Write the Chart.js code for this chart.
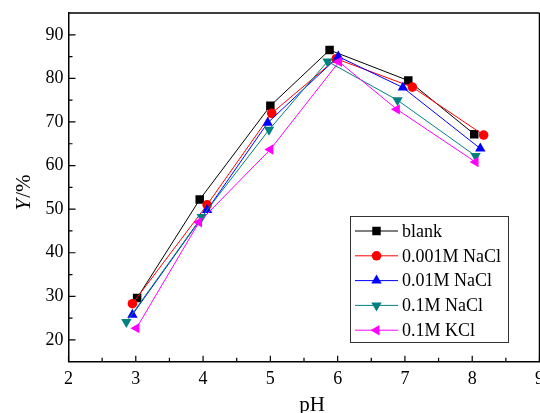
<!DOCTYPE html>
<html>
<head>
<meta charset="utf-8">
<script src="https://cdn.jsdelivr.net/npm/chart.js@4.4.0/dist/chart.umd.min.js"></script>
<style>
html, body { margin: 0; padding: 0; background: #fff; overflow: hidden; }
#wrap { width: 560px; height: 413px; }
</style>
</head>
<body>
<div id="wrap"><canvas id="myChart" width="560" height="413"></canvas></div>
<script>
// yield vs pH for each electrolyte
var seriesNames = ['blank', '0.001M NaCl', '0.01M NaCl', '0.1M NaCl', '0.1M KCl'];

var phBlank = [3.02, 3.95, 5.00, 5.88, 7.05, 8.03];
var yBlank  = [29.6, 52.2, 73.7, 86.5, 79.5, 67.2];

var phNa001 = [2.95, 4.06, 5.02, 5.98, 7.11, 8.17];
var yNa001  = [28.3, 51.0, 72.0, 84.5, 78.0, 67.0];

var phNa01 = [2.95, 4.06, 4.96, 6.01, 6.97, 8.12];
var yNa01  = [25.8, 49.8, 69.8, 85.0, 77.9, 63.9];

var phNa1 = [2.86, 3.98, 4.98, 5.85, 6.89, 8.05];
var yNa1  = [24.1, 48.2, 68.2, 83.9, 75.0, 62.2];

var phK1 = [3.01, 3.94, 5.00, 6.02, 6.88, 8.05];
var yK1  = [22.7, 47.0, 63.7, 83.8, 72.9, 60.8];

var xTicks = [2, 3, 4, 5, 6, 7, 8, 9];
var yTicks = [20, 30, 40, 50, 60, 70, 80, 90];

var serif = "'Liberation Serif', 'Times New Roman', serif";

function pts(xs, ys) {
    return xs.map(function (x, i) { return { x: x, y: ys[i] }; });
}

function makeSet(label, xs, ys, color, style, rot, r, order) {
    return {
        label: label,
        data: pts(xs, ys),
        showLine: true,
        borderColor: color,
        borderWidth: 1,
        backgroundColor: color,
        pointBackgroundColor: color,
        pointBorderColor: color,
        pointBorderWidth: 0,
        pointStyle: style,
        rotation: rot,
        pointRadius: r,
        order: order
    };
}

var datasets = [
    makeSet(seriesNames[0], phBlank, yBlank, '#000000', 'rect', 0, 6, 4),
    makeSet(seriesNames[1], phNa001, yNa001, '#ff0000', 'circle', 0, 4.8, 3),
    makeSet(seriesNames[2], phNa01, yNa01, '#0000ff', 'triangle', 0, 6, 2),
    makeSet(seriesNames[3], phNa1, yNa1, '#008080', 'triangle', 180, 6, 1),
    makeSet(seriesNames[4], phK1, yK1, '#ff00ff', 'triangle', 270, 6, 0)
];

// frame, inward tick marks and axis titles
var framePlugin = {
    id: 'frame',
    afterDraw: function (chart) {
        var c = chart.ctx, a = chart.chartArea;
        var xs = chart.scales.x, ys = chart.scales.y;
        c.save();
        c.strokeStyle = '#000';
        c.lineWidth = 1.5;
        c.beginPath();
        c.moveTo(a.left, a.top); c.lineTo(a.right, a.top);
        c.moveTo(a.right, a.top); c.lineTo(a.right, a.bottom);
        c.stroke();

        c.lineWidth = 1.2;
        c.beginPath();
        var v, p, len;
        for (v = 2; v <= 9; v += 0.5) {
            p = xs.getPixelForValue(v);
            len = (v % 1 === 0) ? 6 : 4;
            c.moveTo(p, a.bottom); c.lineTo(p, a.bottom - len);
        }
        for (v = 20; v <= 90; v += 5) {
            p = ys.getPixelForValue(v);
            len = (v % 10 === 0) ? 7 : 4;
            c.moveTo(a.left, p); c.lineTo(a.left + len, p);
        }
        c.stroke();

        // axis titles
        c.fillStyle = '#000';
        c.textBaseline = 'alphabetic';
        c.font = '21px ' + serif;
        c.textAlign = 'center';
        c.fillText('pH', 312, 411);

        c.translate(30, 193);
        c.rotate(-Math.PI / 2);
        c.font = 'italic 21px ' + serif;
        var w1 = c.measureText('Y').width;
        c.font = '21px ' + serif;
        var w2 = c.measureText('/%').width;
        var x0 = -(w1 + w2) / 2;
        c.textAlign = 'left';
        c.font = 'italic 21px ' + serif;
        c.fillText('Y', x0, 0);
        c.font = '21px ' + serif;
        c.fillText('/%', x0 + w1 + 1, 0);
        c.restore();
    }
};

// boxed legend inside the plot
var legendPlugin = {
    id: 'boxLegend',
    afterDraw: function (chart) {
        var c = chart.ctx;
        var bx = 350, by = 216, bw = 158, bh = 126;
        c.save();
        c.strokeStyle = '#333';
        c.lineWidth = 1;
        c.strokeRect(bx + 0.5, by + 0.5, bw, bh);
        c.font = '18px ' + serif;
        c.textBaseline = 'middle';
        c.textAlign = 'left';
        chart.data.datasets.forEach(function (ds, i) {
            var yy = 231 + i * 24.8;
            c.strokeStyle = ds.borderColor;
            c.lineWidth = 1;
            c.beginPath();
            c.moveTo(355, yy); c.lineTo(398, yy);
            c.stroke();
            c.fillStyle = ds.pointBackgroundColor;
            Chart.helpers.drawPoint(c, {
                pointStyle: ds.pointStyle,
                rotation: ds.rotation,
                radius: ds.pointRadius,
                borderWidth: 0
            }, 376.5, yy);
            c.fillStyle = '#000';
            c.fillText(ds.label, 402, yy + 1);
        });
        c.restore();
    }
};

document.addEventListener('DOMContentLoaded', function () {
    var ctx = document.getElementById('myChart').getContext('2d');
    new Chart(ctx, {
        type: 'scatter',
        data: { datasets: datasets },
        options: {
            responsive: false,
            animation: false,
            layout: { padding: { top: 13, right: 20.5, left: 0, bottom: 0 } },
            plugins: {
                legend: { display: false },
                tooltip: { enabled: false }
            },
            scales: {
                x: {
                    type: 'linear',
                    min: 2,
                    max: 9,
                    afterBuildTicks: function (s) {
                        s.ticks = xTicks.map(function (v) { return { value: v }; });
                    },
                    afterFit: function (s) {
                        s.height = 51.3;
                        s.paddingLeft = 0;
                        s.paddingRight = 0;
                    },
                    grid: { drawOnChartArea: false, drawTicks: false },
                    border: { display: true, color: '#000', width: 1.5 },
                    ticks: {
                        color: '#000',
                        padding: 7,
                        maxRotation: 0,
                        autoSkip: false,
                        font: { family: serif, size: 18 }
                    }
                },
                y: {
                    type: 'linear',
                    min: 15,
                    max: 95,
                    afterBuildTicks: function (s) {
                        s.ticks = yTicks.map(function (v) { return { value: v }; });
                    },
                    afterFit: function (s) {
                        s.width = 68.5;
                        s.paddingTop = 0;
                        s.paddingBottom = 0;
                    },
                    grid: { drawOnChartArea: false, drawTicks: false },
                    border: { display: true, color: '#000', width: 1.5 },
                    ticks: {
                        color: '#000',
                        padding: 5,
                        autoSkip: false,
                        font: { family: serif, size: 18 }
                    }
                }
            }
        },
        plugins: [framePlugin, legendPlugin]
    });
});
</script>
</body>
</html>
